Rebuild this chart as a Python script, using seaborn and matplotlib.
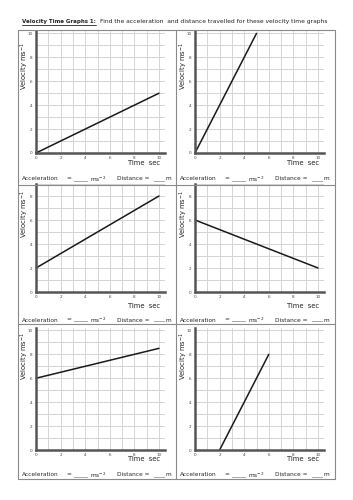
import numpy as np
import pandas as pd
import matplotlib
matplotlib.use("Agg")
import matplotlib.pyplot as plt
from matplotlib.lines import Line2D
import seaborn as sns

# ── data: start / end points of each velocity-time line ──────────────────────
panel_t = [[0, 10], [0, 5], [0, 10], [0, 10], [0, 10], [2, 6]]
panel_v = [[0, 5], [0, 10], [2, 8], [6, 2], [6, 8.5], [0, 8]]
row_ymax = [10, 8, 10]
x_ticks = [0, 2, 4, 6, 8, 10]

sns.set_style("white")
plt.rcParams["font.family"] = ["DejaVu Sans"]

W, H = 353, 500
fig = plt.figure(figsize=(W / 100, H / 100), dpi=100)


def fx(px):
    return px / W


def fy(py):
    return 1 - py / H


# layout in pixels
col_x0 = [36, 195]
col_lab = [24.5, 183.5]
col_box = [18, 176]
row_y0 = [153, 292, 450]
row_top = [31, 184, 328]
row_time = [163, 306, 459]
row_vel = [66, 214, 356]
row_acc = [179, 320, 475]
unit_x = 12.3

grid_c = "#d4d4d4"
axis_c = "#555555"

for i in range(6):
    r, c = divmod(i, 2)
    ymax = row_ymax[r]
    ytop = ymax + (0.2 if ymax == 10 else 1.0)
    left = col_x0[c]
    width = 10.5 * unit_x
    ax = fig.add_axes([fx(left), fy(row_y0[r]), fx(width),
                       (row_y0[r] - row_top[r]) / H])
    ax.set_xlim(0, 10.5)
    ax.set_ylim(0, ytop)
    ax.set_xticks(x_ticks)
    ax.set_xticks(range(1, 11, 2), minor=True)
    ax.set_yticks(range(0, ymax + 1, 2))
    ax.set_yticks(range(1, int(ytop) + 1, 2), minor=True)
    ax.grid(True, which="both", color=grid_c, lw=0.7)
    ax.tick_params(which="both", length=1.5, width=0.5, pad=1,
                   labelsize=3.0, colors="#444444")
    ax.tick_params(which="minor", length=0)
    for s in ["top", "right"]:
        ax.spines[s].set_visible(False)
    for s in ["left", "bottom"]:
        ax.spines[s].set_color(axis_c)
        ax.spines[s].set_linewidth(1.8)
    df = pd.DataFrame({"t": panel_t[i], "v": panel_v[i]})
    sns.lineplot(data=df, x="t", y="v", ax=ax, color="#1a1a1a", lw=1.1,
                 clip_on=False)
    ax.set_xlabel("")
    ax.set_ylabel("")

    # labels
    fig.text(fx(col_lab[c]), fy(row_vel[r]), "Velocity ms$^{-1}$",
             rotation=90, ha="center", va="center", fontsize=4.9,
             color="#222222")
    fig.text(fx(left + 92), fy(row_time[r]), "Time  sec", ha="left",
             va="center", fontsize=4.9, color="#222222")

    # answer line
    bx = col_box[c]
    yy = fy(row_acc[r])
    fs = 4.2
    fig.text(fx(bx + 4), yy, "Acceleration", fontsize=fs, va="center")
    fig.text(fx(bx + 48), yy, "=", fontsize=fs, va="center")
    fig.text(fx(bx + 55), yy, "_____", fontsize=fs, va="center")
    fig.text(fx(bx + 72), yy, "ms$^{-2}$", fontsize=fs, va="center")
    fig.text(fx(bx + 99), yy, "Distance =", fontsize=fs, va="center")
    fig.text(fx(bx + 135), yy, "____", fontsize=fs, va="center")
    fig.text(fx(bx + 147), yy, "m", fontsize=fs, va="center")

# ── box lines ────────────────────────────────────────────────────────────────
box_c = "#8a8a8a"
for (x1, y1, x2, y2) in [(18, 30, 335, 30), (18, 479, 335, 479),
                         (18, 30, 18, 479), (335, 30, 335, 479),
                         (176, 30, 176, 479), (18, 185, 335, 185),
                         (18, 324, 335, 324)]:
    fig.add_artist(Line2D([fx(x1), fx(x2)], [fy(y1), fy(y2)], color=box_c,
                          lw=0.8))

# ── title ────────────────────────────────────────────────────────────────────
t1 = fig.text(fx(22), fy(22), "Velocity Time Graphs 1:", fontsize=4.0,
              fontweight="bold", va="center", color="#222222")
fig.canvas.draw()
bb = t1.get_window_extent().transformed(fig.transFigure.inverted())
fig.text(bb.x1 + fx(4), fy(22),
         "Find the acceleration  and distance travelled for these velocity time graphs",
         fontsize=4.35, va="center", color="#222222")
fig.add_artist(Line2D([bb.x0, bb.x1], [bb.y0 - 0.001, bb.y0 - 0.001],
                      color="#222222", lw=0.6))

fig.savefig("out.png", dpi=100)
